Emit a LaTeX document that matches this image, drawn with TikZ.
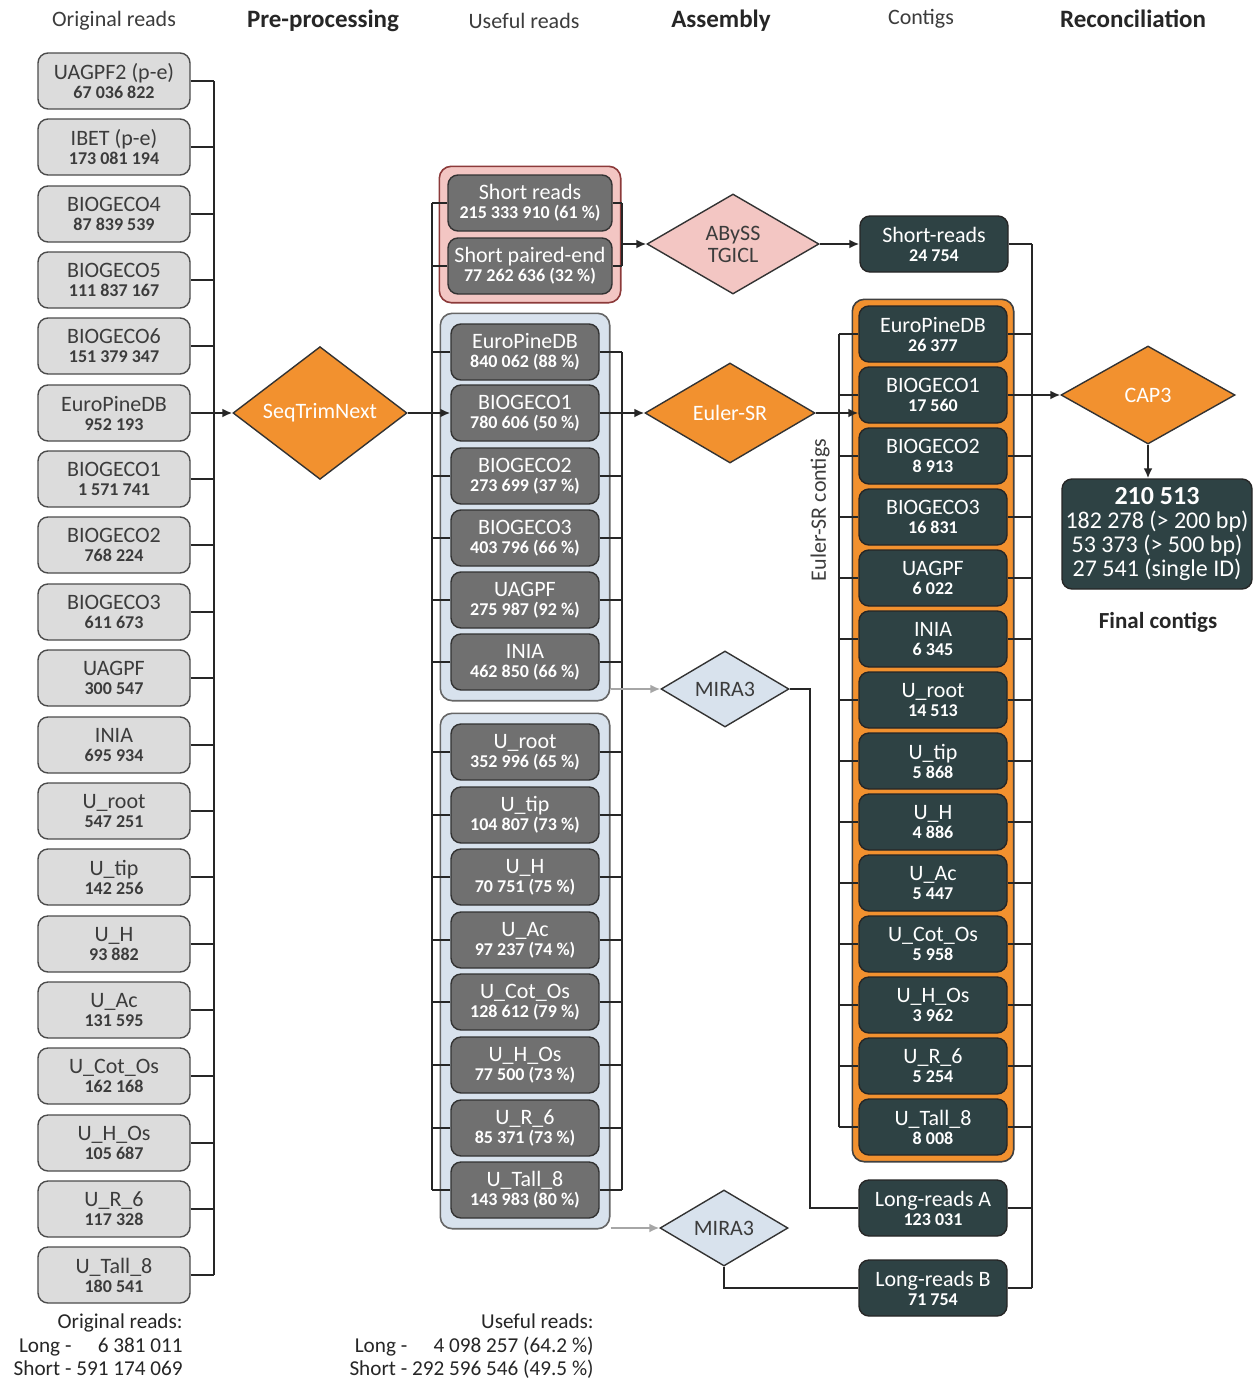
\documentclass[tikz,border=0pt]{standalone}
\usepackage{fontspec}
\setmainfont{Carlito}
\usetikzlibrary{positioning, fit, backgrounds, shapes.geometric, arrows.meta}

\definecolor{readgray}{HTML}{DCDCDC}
\definecolor{usefulgray}{HTML}{707070}
\definecolor{contigslate}{HTML}{2E4244}
\definecolor{toolorange}{HTML}{F2912F}
\definecolor{pinkfill}{HTML}{F3C6C3}
\definecolor{pinkline}{HTML}{8C3A3A}
\definecolor{bluefill}{HTML}{D8E2ED}
\definecolor{textgray}{HTML}{3C3C3C}

% bold read counts under each label
\newcommand{\cnt}[1]{{\fontsize{9}{9.5}\selectfont\bfseries #1}}

\tikzset{
	readbox/.style={draw=black!70, fill=readgray, rounded corners=5pt, line width=0.7pt,
			minimum width=76pt, minimum height=28pt, inner sep=1pt, align=center,
			text=textgray, font=\fontsize{11}{9.5}\selectfont}
}
\tikzset{
	usefulbox/.style={readbox, draw=black!80, fill=usefulgray, text=white, minimum width=74pt},
	pairbox/.style={usefulbox, minimum width=82pt},
	contigbox/.style={readbox, draw=black!85, fill=contigslate, text=white, minimum width=74pt}
}
\tikzset{
	tool/.style={diamond, draw=black!80, line width=0.7pt, inner sep=0pt, align=center,
			font=\fontsize{11}{11}\selectfont},
	orangetool/.style={tool, fill=toolorange, text=white},
	pinktool/.style={tool, fill=pinkfill, text=textgray},
	bluetool/.style={tool, fill=bluefill, text=textgray}
}
\tikzset{
	pinkgroup/.style={draw=pinkline, fill=pinkfill, rounded corners=6pt, line width=0.8pt, inner sep=4pt},
	bluegroup/.style={draw=black!60, fill=bluefill, rounded corners=6pt, line width=0.8pt, inner sep=5pt},
	orangegroup/.style={draw=black!75, fill=toolorange, rounded corners=6pt, line width=0.8pt, inner sep=3pt}
}
\tikzset{
	head/.style={font=\fontsize{11}{11}\selectfont, text=textgray},
	boldhead/.style={font=\fontsize{12.5}{12.5}\selectfont\bfseries, text=black!85},
	sumtext/.style={anchor=north east, inner sep=0pt, text=black!85, font=\fontsize{10.6}{11.75}\selectfont},
	wire/.style={line width=1pt, black!85},
	feed/.style={wire, -{Latex[length=5pt, width=4.5pt]}},
	grayfeed/.style={line width=1pt, black!35, -{Latex[length=5pt, width=4.5pt]}}
}

\begin{document}
\begin{tikzpicture}[x=0.5pt, y=-0.5pt]

	\useasboundingbox (0,0) rectangle (1254,1381);

	% column titles
	\node[head] (tOrig) at (114,21) {Original reads};
	\node[boldhead] (tPre) at (323,21) {Pre-processing};
	\node[head] (tUse) at (524,21) {Useful reads};
	\node[boldhead] (tAsm) at (721,21) {Assembly};
	\node[head] (tCon) at (921,19) {Contigs};
	\node[boldhead] (tRec) at (1133,19) {Reconciliation};

	\begin{scope}
		\node[readbox] (o1) at (114,81) {UAGPF2 (p-e)\\\cnt{67 036 822}};
		\node[readbox] (o2) at (114,147) {IBET (p-e)\\\cnt{173 081 194}};
		\node[readbox] (o3) at (114,214) {BIOGECO4\\\cnt{87 839 539}};
		\node[readbox] (o4) at (114,280) {BIOGECO5\\\cnt{111 837 167}};
		\node[readbox] (o5) at (114,346) {BIOGECO6\\\cnt{151 379 347}};
		\node[readbox] (o6) at (114,413) {EuroPineDB\\\cnt{952 193}};
		\node[readbox] (o7) at (114,479) {BIOGECO1\\\cnt{1 571 741}};
		\node[readbox] (o8) at (114,545) {BIOGECO2\\\cnt{768 224}};
		\node[readbox] (o9) at (114,612) {BIOGECO3\\\cnt{611 673}};
		\node[readbox] (o10) at (114,678) {UAGPF\\\cnt{300 547}};
		\node[readbox] (o11) at (114,745) {INIA\\\cnt{695 934}};
		\node[readbox] (o12) at (114,811) {U\_root\\\cnt{547 251}};
		\node[readbox] (o13) at (114,877) {U\_tip\\\cnt{142 256}};
		\node[readbox] (o14) at (114,944) {U\_H\\\cnt{93 882}};
		\node[readbox] (o15) at (114,1010) {U\_Ac\\\cnt{131 595}};
		\node[readbox] (o16) at (114,1076) {U\_Cot\_Os\\\cnt{162 168}};
		\node[readbox] (o17) at (114,1143) {U\_H\_Os\\\cnt{105 687}};
		\node[readbox] (o18) at (114,1209) {U\_R\_6\\\cnt{117 328}};
		\node[readbox] (o19) at (114,1275) {U\_Tall\_8\\\cnt{180 541}};
	\end{scope}

	\begin{scope}
		\node[pairbox] (u1) at (530,203) {Short reads\\\cnt{215 333 910 (61 \%)}};
		\node[pairbox] (u2) at (530,266) {Short paired-end\\\cnt{77 262 636 (32 \%)}};

		\node[usefulbox] (u3) at (525,352) {EuroPineDB\\\cnt{840 062 (88 \%)}};
		\node[usefulbox] (u4) at (525,413) {BIOGECO1\\\cnt{780 606 (50 \%)}};
		\node[usefulbox] (u5) at (525,476) {BIOGECO2\\\cnt{273 699 (37 \%)}};
		\node[usefulbox] (u6) at (525,538) {BIOGECO3\\\cnt{403 796 (66 \%)}};
		\node[usefulbox] (u7) at (525,600) {UAGPF\\\cnt{275 987 (92 \%)}};
		\node[usefulbox] (u8) at (525,662) {INIA\\\cnt{462 850 (66 \%)}};

		\node[usefulbox] (u9) at (525,752) {U\_root\\\cnt{352 996 (65 \%)}};
		\node[usefulbox] (u10) at (525,815) {U\_tip\\\cnt{104 807 (73 \%)}};
		\node[usefulbox] (u11) at (525,877) {U\_H\\\cnt{70 751 (75 \%)}};
		\node[usefulbox] (u12) at (525,940) {U\_Ac\\\cnt{97 237 (74 \%)}};
		\node[usefulbox] (u13) at (525,1002) {U\_Cot\_Os\\\cnt{128 612 (79 \%)}};
		\node[usefulbox] (u14) at (525,1065) {U\_H\_Os\\\cnt{77 500 (73 \%)}};
		\node[usefulbox] (u15) at (525,1128) {U\_R\_6\\\cnt{85 371 (73 \%)}};
		\node[usefulbox] (u16) at (525,1190) {U\_Tall\_8\\\cnt{143 983 (80 \%)}};
	\end{scope}

	\begin{scope}
		\node[contigbox] (sr) at (934,244) {Short-reads\\\cnt{24 754}};

		\node[contigbox] (c1) at (933,334) {EuroPineDB\\\cnt{26 377}};
		\node[contigbox] (c2) at (933,395) {BIOGECO1\\\cnt{17 560}};
		\node[contigbox] (c3) at (933,456) {BIOGECO2\\\cnt{8 913}};
		\node[contigbox] (c4) at (933,517) {BIOGECO3\\\cnt{16 831}};
		\node[contigbox] (c5) at (933,578) {UAGPF\\\cnt{6 022}};
		\node[contigbox] (c6) at (933,639) {INIA\\\cnt{6 345}};
		\node[contigbox] (c7) at (933,700) {U\_root\\\cnt{14 513}};
		\node[contigbox] (c8) at (933,761) {U\_tip\\\cnt{5 868}};
		\node[contigbox] (c9) at (933,822) {U\_H\\\cnt{4 886}};
		\node[contigbox] (c10) at (933,883) {U\_Ac\\\cnt{5 447}};
		\node[contigbox] (c11) at (933,944) {U\_Cot\_Os\\\cnt{5 958}};
		\node[contigbox] (c12) at (933,1005) {U\_H\_Os\\\cnt{3 962}};
		\node[contigbox] (c13) at (933,1066) {U\_R\_6\\\cnt{5 254}};
		\node[contigbox] (c14) at (933,1127) {U\_Tall\_8\\\cnt{8 008}};

		\node[contigbox] (lrA) at (933,1208) {Long-reads A\\\cnt{123 031}};
		\node[contigbox] (lrB) at (933,1288) {Long-reads B\\\cnt{71 754}};

		\node[head, rotate=90] (eulab) at (820,510) {Euler-SR contigs};
	\end{scope}

	% coloured frames behind the read sets
	\begin{scope}[on background layer]
		\fill[white] (0,0) rectangle (1254,1381);
		\node[pinkgroup, fit=(u1)(u2)] (gpink) {};
		\node[bluegroup, fit=(u3)(u8)] (gblue1) {};
		\node[bluegroup, fit=(u9)(u16)] (gblue2) {};
		\node[orangegroup, fit=(c1)(c14)] (gorange) {};
	\end{scope}

	\node[orangetool, minimum width=87pt, minimum height=50pt] (seq) at (320,413) {SeqTrimNext};
	\node[pinktool, minimum width=86pt, minimum height=50pt] (abyss) at (733,244) {ABySS\\TGICL};
	\node[orangetool, minimum width=85pt, minimum height=50pt] (euler) at (730,413) {Euler-SR};
	\node[bluetool, minimum width=64pt, minimum height=38pt] (mira1) at (725,689) {MIRA3};
	\node[bluetool, minimum width=64pt, minimum height=38pt] (mira2) at (724,1228) {MIRA3};
	\node[orangetool, minimum width=87pt, minimum height=49pt] (cap) at (1148,395) {CAP3};

	\node[contigbox, minimum width=95pt, minimum height=55pt, font=\fontsize{12}{12}\selectfont] (fin) at (1157,534)
		{{\fontsize{13}{13}\selectfont\bfseries 210 513}\\182 278 (> 200 bp)\\53 373 (> 500 bp)\\27 541 (single ID)};
	\node[boldhead, font=\fontsize{11.5}{11.5}\selectfont\bfseries] (finlab) at (1158,622) {Final contigs};

	\coordinate (busO) at (214,0);
	\coordinate (busUL) at (432,0);
	\coordinate (busUR) at (622,0);
	\coordinate (busCL) at (839,0);
	\coordinate (busCR) at (1032,0);

	% original reads into the trimming step
	\draw[wire] (o1.east -| busO) -- (o19.east -| busO);
	\draw[wire] (o1.east) -- (o1.east -| busO);
	\draw[wire] (o2.east) -- (o2.east -| busO);
	\draw[wire] (o3.east) -- (o3.east -| busO);
	\draw[wire] (o4.east) -- (o4.east -| busO);
	\draw[wire] (o5.east) -- (o5.east -| busO);
	\draw[wire] (o7.east) -- (o7.east -| busO);
	\draw[wire] (o8.east) -- (o8.east -| busO);
	\draw[wire] (o9.east) -- (o9.east -| busO);
	\draw[wire] (o10.east) -- (o10.east -| busO);
	\draw[wire] (o11.east) -- (o11.east -| busO);
	\draw[wire] (o12.east) -- (o12.east -| busO);
	\draw[wire] (o13.east) -- (o13.east -| busO);
	\draw[wire] (o14.east) -- (o14.east -| busO);
	\draw[wire] (o15.east) -- (o15.east -| busO);
	\draw[wire] (o16.east) -- (o16.east -| busO);
	\draw[wire] (o17.east) -- (o17.east -| busO);
	\draw[wire] (o18.east) -- (o18.east -| busO);
	\draw[wire] (o19.east) -- (o19.east -| busO);
	\draw[feed] (o6.east) -- (seq.west);

	% trimmed reads, left side
	\draw[feed] (seq.east) -- (u4.west);
	\draw[wire] (u1.west -| busUL) -- (u16.west -| busUL);
	\draw[wire] (u1.west) -- (u1.west -| busUL);
	\draw[wire] (u2.west) -- (u2.west -| busUL);
	\draw[wire] (u3.west) -- (u3.west -| busUL);
	\draw[wire] (u5.west) -- (u5.west -| busUL);
	\draw[wire] (u6.west) -- (u6.west -| busUL);
	\draw[wire] (u7.west) -- (u7.west -| busUL);
	\draw[wire] (u8.west) -- (u8.west -| busUL);
	\draw[wire] (u9.west) -- (u9.west -| busUL);
	\draw[wire] (u10.west) -- (u10.west -| busUL);
	\draw[wire] (u11.west) -- (u11.west -| busUL);
	\draw[wire] (u12.west) -- (u12.west -| busUL);
	\draw[wire] (u13.west) -- (u13.west -| busUL);
	\draw[wire] (u14.west) -- (u14.west -| busUL);
	\draw[wire] (u15.west) -- (u15.west -| busUL);
	\draw[wire] (u16.west) -- (u16.west -| busUL);

	% short reads to ABySS
	\draw[wire] (u1.east -| busUR) -- (u2.east -| busUR);
	\draw[wire] (u1.east) -- (u1.east -| busUR);
	\draw[wire] (u2.east) -- (u2.east -| busUR);
	\draw[feed] (abyss.west -| busUR) -- (abyss.west);
	\draw[feed] (abyss.east) -- (sr.west);

	% long reads to Euler-SR and MIRA3
	\draw[wire] (u3.east -| busUR) -- (u16.east -| busUR);
	\draw[wire] (u3.east) -- (u3.east -| busUR);
	\draw[wire] (u5.east) -- (u5.east -| busUR);
	\draw[wire] (u6.east) -- (u6.east -| busUR);
	\draw[wire] (u7.east) -- (u7.east -| busUR);
	\draw[wire] (u8.east) -- (u8.east -| busUR);
	\draw[wire] (u9.east) -- (u9.east -| busUR);
	\draw[wire] (u10.east) -- (u10.east -| busUR);
	\draw[wire] (u11.east) -- (u11.east -| busUR);
	\draw[wire] (u12.east) -- (u12.east -| busUR);
	\draw[wire] (u13.east) -- (u13.east -| busUR);
	\draw[wire] (u14.east) -- (u14.east -| busUR);
	\draw[wire] (u15.east) -- (u15.east -| busUR);
	\draw[wire] (u16.east) -- (u16.east -| busUR);
	\draw[feed] (u4.east) -- (euler.west);
	\draw[grayfeed] (gblue1.east |- mira1.west) -- (mira1.west);
	\draw[grayfeed] (gblue2.east |- mira2.west) -- (mira2.west);

	% Euler-SR contigs
	\draw[feed] (euler.east) -- (euler.east -| c2.west);
	\draw[wire] (c1.west -| busCL) -- (c14.west -| busCL);
	\draw[wire] (c1.west) -- (c1.west -| busCL);
	\draw[wire] (c2.west) -- (c2.west -| busCL);
	\draw[wire] (c3.west) -- (c3.west -| busCL);
	\draw[wire] (c4.west) -- (c4.west -| busCL);
	\draw[wire] (c5.west) -- (c5.west -| busCL);
	\draw[wire] (c6.west) -- (c6.west -| busCL);
	\draw[wire] (c7.west) -- (c7.west -| busCL);
	\draw[wire] (c8.west) -- (c8.west -| busCL);
	\draw[wire] (c9.west) -- (c9.west -| busCL);
	\draw[wire] (c10.west) -- (c10.west -| busCL);
	\draw[wire] (c11.west) -- (c11.west -| busCL);
	\draw[wire] (c12.west) -- (c12.west -| busCL);
	\draw[wire] (c13.west) -- (c13.west -| busCL);
	\draw[wire] (c14.west) -- (c14.west -| busCL);

	% MIRA3 contigs
	\draw[wire] (mira1.east) -- ++(20,0) |- (lrA.west);
	\draw[wire] (mira2.south) |- (lrB.west);

	% everything into CAP3
	\draw[wire] (sr.east -| busCR) -- (lrB.east -| busCR);
	\draw[wire] (sr.east) -- (sr.east -| busCR);
	\draw[wire] (c1.east) -- (c1.east -| busCR);
	\draw[wire] (c3.east) -- (c3.east -| busCR);
	\draw[wire] (c4.east) -- (c4.east -| busCR);
	\draw[wire] (c5.east) -- (c5.east -| busCR);
	\draw[wire] (c6.east) -- (c6.east -| busCR);
	\draw[wire] (c7.east) -- (c7.east -| busCR);
	\draw[wire] (c8.east) -- (c8.east -| busCR);
	\draw[wire] (c9.east) -- (c9.east -| busCR);
	\draw[wire] (c10.east) -- (c10.east -| busCR);
	\draw[wire] (c11.east) -- (c11.east -| busCR);
	\draw[wire] (c12.east) -- (c12.east -| busCR);
	\draw[wire] (c13.east) -- (c13.east -| busCR);
	\draw[wire] (c14.east) -- (c14.east -| busCR);
	\draw[wire] (lrA.east) -- (lrA.east -| busCR);
	\draw[wire] (lrB.east) -- (lrB.east -| busCR);
	\draw[feed] (c2.east) -- (cap.west);
	\draw[feed] (cap.south) -- (cap.south |- fin.north);

	% totals under the read columns
	\node[sumtext] (origsum) at (183,1312)
		{\begin{tabular}{@{}r@{\ }r@{}}\multicolumn{2}{@{}r@{}}{Original reads:}\\Long - & 6 381 011\\Short - & 591 174 069\end{tabular}};
	\node[sumtext] (usesum) at (594,1312)
		{\begin{tabular}{@{}r@{\ }r@{}}\multicolumn{2}{@{}r@{}}{Useful reads:}\\Long - & 4 098 257 (64.2 \%)\\Short - & 292 596 546 (49.5 \%)\end{tabular}};

\end{tikzpicture}
\end{document}
